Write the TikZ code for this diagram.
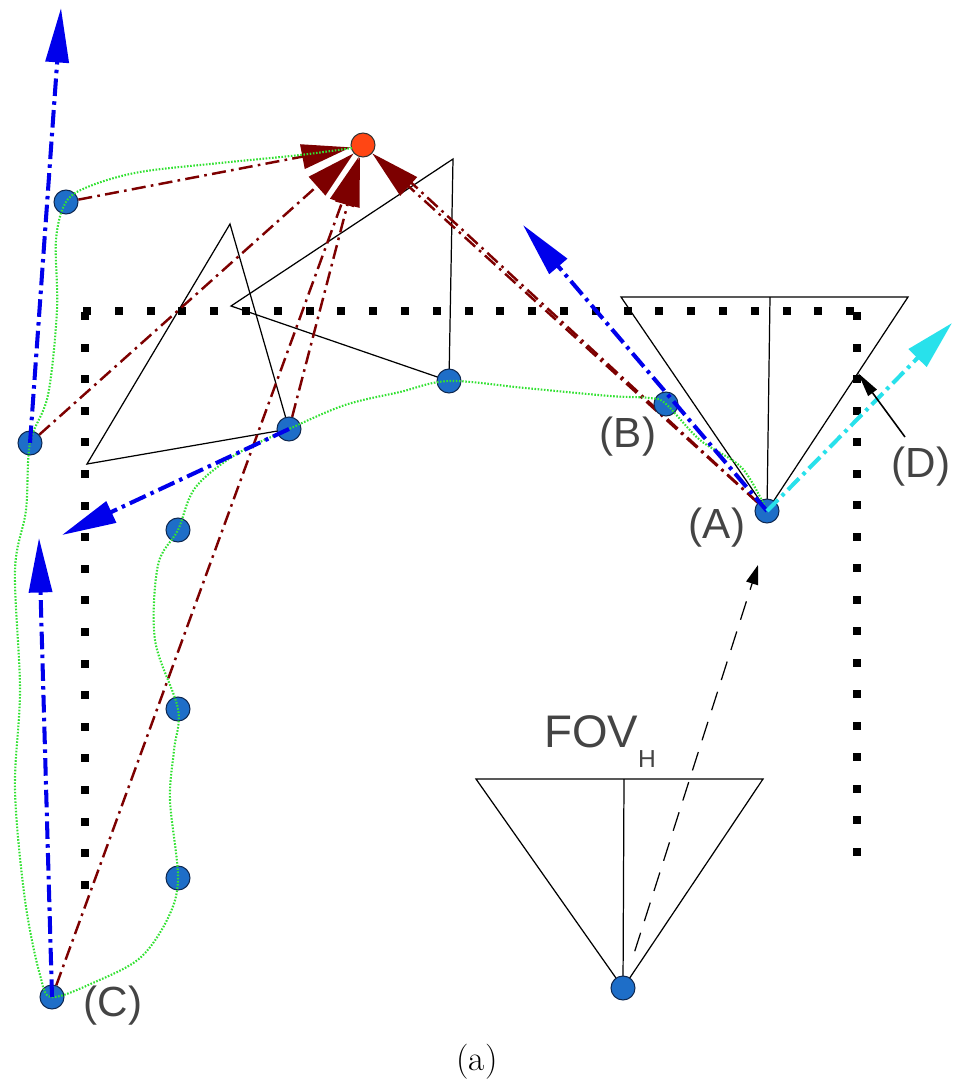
\documentclass[tikz,border=0pt]{standalone}
\usepackage{fontspec}
\newfontfamily\labfont{Liberation Sans}
\usetikzlibrary{arrows.meta,calc}
\definecolor{dotblue}{RGB}{30,110,200}
\definecolor{dotedge}{RGB}{15,40,80}
\definecolor{arrblue}{RGB}{0,0,235}
\definecolor{darkred}{RGB}{125,0,0}
\definecolor{orangered}{RGB}{255,70,20}
\definecolor{trajgreen}{RGB}{50,225,50}
\definecolor{arrcyan}{RGB}{40,225,235}
\definecolor{labgray}{RGB}{68,68,68}
\pgfdeclarelayer{back}
\pgfsetlayers{back,main}
\tikzset{
 bdot/.style={circle,fill=dotblue,draw=dotedge,line width=0.6pt,minimum size=0.48cm,inner sep=0pt},
 rdot/.style={circle,fill=orangered,draw=black!80,line width=0.6pt,minimum size=0.48cm,inner sep=0pt},
 wallsq/.style={fill=black},
 fovline/.style={draw=black,line width=0.7pt},
 traj/.style={draw=trajgreen,line width=1.2pt,dash pattern=on 0.9pt off 0.9pt},
 bluearr/.style={draw=arrblue,line width=2.3pt,dash pattern=on 10pt off 3pt on 2pt off 3pt,-{Triangle[length=31pt,width=13pt]}},
 cyanarr/.style={draw=arrcyan,line width=2.3pt,dash pattern=on 9pt off 3pt on 2pt off 3pt,-{Triangle[length=28pt,width=14pt]}},
 redarr/.style={draw=darkred,line width=1.4pt,dash pattern=on 8pt off 3pt on 1.5pt off 3pt,-{Triangle[length=28pt,width=14pt]}},
 redline/.style={draw=darkred,line width=1.4pt,dash pattern=on 8pt off 3pt on 1.5pt off 3pt},
 camarr/.style={draw=black,line width=0.7pt,dash pattern=on 11pt off 7pt,-{Triangle[length=11pt,width=7pt]}},
 ptrarr/.style={draw=black,line width=0.9pt,-{Triangle[length=14pt,width=6pt]}},
 lab/.style={font=\labfont\fontsize{24}{28}\selectfont,text=labgray,inner sep=0pt}
}
\begin{document}
\begin{tikzpicture}[x=0.02cm,y=-0.02cm]
\useasboundingbox (0,0) rectangle (953,1086);

% nodes
\node[rdot] (R) at (363,145) {};
\node[bdot] (P1) at (66,202) {};
\node[bdot] (P2) at (30,443) {};
\node[bdot] (P3) at (289,429) {};
\node[bdot] (P4) at (449,381) {};
\node[bdot] (B) at (666,404) {};
\node[bdot] (A) at (767,511) {};
\node[bdot] (C) at (52,997) {};
\node[bdot] (L1) at (178,530) {};
\node[bdot] (L2) at (178,709) {};
\node[bdot] (L3) at (178,878) {};
\node[bdot] (K) at (623,988) {};

\begin{pgfonlayer}{back}
% walls (square-dotted)
\foreach \i in {0,...,24} \fill[wallsq] (87+31.8*\i-4,311-4) rectangle ++(8,8);
\foreach \i in {0,...,18} \fill[wallsq] (85-4,316+31.6*\i-4) rectangle ++(8,8);
\foreach \i in {0,...,17} \fill[wallsq] (857-4,316+31.5*\i-4) rectangle ++(8,8);

% field-of-view triangles
\draw[fovline] (230,224) -- (87,464) -- (P3.center) -- cycle;
\draw[fovline] (231,306) -- (453,159) -- (P4.center) -- cycle;
\draw[fovline] (621,297) -- (908,297) -- (A.center) -- cycle;
\draw[fovline] (770,297) -- (A.center);
\draw[fovline] (476,779) -- (763,779) -- (K.center) -- cycle;
\draw[fovline] (624,779) -- (K.center);

% red rays to the target
\draw[redarr] (P1) -- (R);
\draw[redarr] (P2) -- (R);
\draw[redarr] (P3) -- (R);
\draw[redarr] (C) -- (R);
\draw[redline] (A) -- ($(R)+(40,30)$);
\draw[redarr] (A) -- (R);

% camera move arrow
\coordinate (TM) at (758,565);
\draw[camarr,shorten <=22pt] (K.center) -- (TM);
\end{pgfonlayer}

% trajectory
\draw[traj] plot[smooth,tension=0.55] coordinates {
 (352,148) (300,155) (220,163) (140,172) (90,186) (66,202)
 (56,240) (57,310) (48,395) (30,443)
 (26,510) (15,570) (20,690) (15,790) (25,900) (40,975) (52,997)
 (95,982) (140,958) (168,918) (178,878)
 (170,800) (174,750) (178,709)
 (155,640) (158,565) (178,530) (195,488) (235,455) (289,429)
 (345,405) (400,392) (449,381) (525,388) (610,396) (650,398) (666,404)
 (700,440) (742,468) (767,511)};

% blue arrows
\coordinate (T1) at (61,8);
\coordinate (T2) at (62,535);
\coordinate (T3) at (39,538);
\coordinate (T4) at (523,225);
\coordinate (TD) at (952,323);
\draw[bluearr] (P2.center) -- (T1);
\draw[bluearr] (P3.center) -- (T2);
\draw[bluearr] (C.center) -- (T3);
\draw[bluearr] (A.center) -- (T4);
\draw[cyanarr] (A.center) -- (TD);

% labels
\node[lab] (lB) at (628,437) {(B)};
\node[lab] (lA) at (717,528) {(A)};
\node[lab] (lD) at (921,467) {(D)};
\node[lab] (lC) at (113,1006) {(C)};
\node[lab,anchor=base,font=\labfont\fontsize{26}{30}\selectfont] (lF) at (600,747) {FOV\raisebox{-0.85ex}{\fontsize{14}{16}\selectfont H}};
\coordinate (TP) at (858,373);
\draw[ptrarr] (905,437) -- (TP);

\node[font=\fontsize{20}{24}\selectfont,inner sep=0pt] (cap) at (477,1062) {(a)};
\end{tikzpicture}
\end{document}
